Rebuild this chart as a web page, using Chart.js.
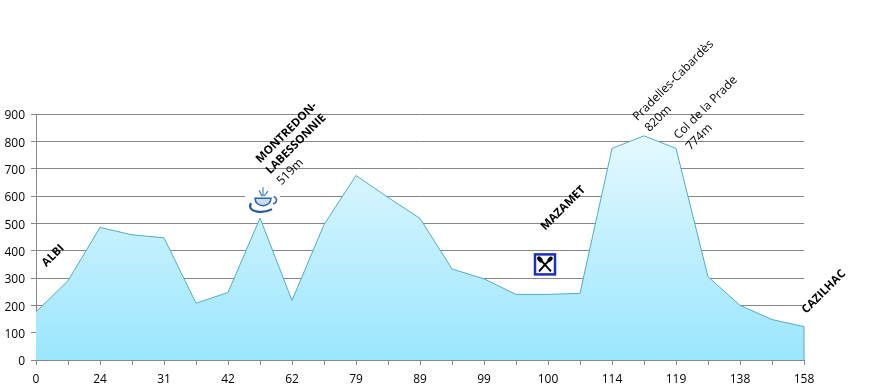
<!DOCTYPE html>
<html lang="fr">
<head>
  <meta charset="UTF-8">
  <title>Profil de la route</title>
  <script src="https://cdn.jsdelivr.net/npm/chart.js"></script>
  <style>
    html, body { margin: 0; padding: 0; background: #fff; }
    canvas { display: block; }
  </style>
</head>
<body>
<canvas id="profile" width="878" height="392"></canvas>
<script>
  // Tick labels sit on every second point, the points between have none
  const distances = ['0', '', '24', '', '31', '', '42', '', '62', '', '79', '', '89', '', '99', '', '100', '', '114', '', '119', '', '138', '', '158'];
  const altitudes = [176, 290, 485, 458, 447, 208, 247, 519, 218, 495, 675, 595, 518, 333, 297, 240, 240, 244, 774, 820, 774, 305, 200, 148, 122];
  const yTicks = [0, 100, 200, 300, 400, 500, 600, 700, 800, 900];

  const placeNames = ['ALBI', 'MONTREDON-', 'LABESSONNIE', 'MAZAMET', 'CAZILHAC'];
  const placeNotes = ['519m', 'Pradelles-Cabardès', '820m', 'Col de la Prade', '774m'];

  const FONT = '"Open Sans", sans-serif';
  const GRID = '#868686';
  const LINE = '#55abc6';

  // text, point index, then offset from that point in pixels
  const annotations = [
    [placeNames[0], 0, 8, -47, true],
    [placeNames[1], 7, -2, -57, true],
    [placeNames[2], 7, 8, -46, true],
    [placeNotes[0], 7, 19, -35, false],
    [placeNames[3], 16, -5, -66, true],
    [placeNotes[1], 19, -9, -17, false],
    [placeNotes[2], 19, 3, -6, false],
    [placeNotes[3], 20, 0, -11, false],
    [placeNotes[4], 20, 12, 0, false],
    [placeNames[4], 24, 0, -15, true]
  ];

  function drawCoffee(ctx, x, y) {
    ctx.save();
    ctx.translate(x, y);
    ctx.fillStyle = '#fff';
    ctx.fillRect(-18, -15, 35, 30);
    ctx.strokeStyle = '#2f63a8';
    ctx.fillStyle = '#c9dcf0';
    ctx.lineWidth = 1.5;
    // cup
    ctx.beginPath();
    ctx.moveTo(-8, -3);
    ctx.bezierCurveTo(-8, 7, 8, 7, 8, -3);
    ctx.closePath();
    ctx.fill();
    ctx.stroke();
    // handle
    ctx.beginPath();
    ctx.arc(10, -1, 3.5, -1.4, 1.6);
    ctx.stroke();
    // saucer
    ctx.lineWidth = 2.2;
    ctx.strokeStyle = '#2a5a9e';
    ctx.beginPath();
    ctx.moveTo(-12, 2);
    ctx.bezierCurveTo(-17, 11, 0, 13, 9, 8);
    ctx.stroke();
    // steam
    ctx.lineWidth = 1.2;
    ctx.strokeStyle = '#4f82c0';
    ctx.beginPath();
    ctx.moveTo(-1, -5);
    ctx.lineTo(-4, -11);
    ctx.moveTo(0, -5);
    ctx.lineTo(0, -14);
    ctx.moveTo(1, -5);
    ctx.lineTo(5, -10);
    ctx.stroke();
    ctx.restore();
  }

  function drawRestaurant(ctx, x, y) {
    ctx.save();
    ctx.translate(x, y);
    ctx.fillStyle = '#fff';
    ctx.fillRect(-12, -12, 24, 24);
    ctx.strokeStyle = '#1c2fc0';
    ctx.lineWidth = 2.5;
    ctx.strokeRect(-10, -10, 20, 20);
    ctx.strokeStyle = '#000';
    ctx.fillStyle = '#000';
    ctx.lineWidth = 2;
    ctx.beginPath();
    ctx.moveTo(-3, -3);
    ctx.lineTo(6, 7);
    ctx.moveTo(3, -3);
    ctx.lineTo(-6, 7);
    ctx.stroke();
    ctx.beginPath();
    ctx.ellipse(-5, -5, 2.2, 3.4, -0.75, 0, Math.PI * 2);
    ctx.fill();
    ctx.beginPath();
    ctx.ellipse(5, -5, 2, 3.2, 0.75, 0, Math.PI * 2);
    ctx.fill();
    ctx.restore();
  }

  const overlay = {
    id: 'overlay',
    afterDatasetsDraw(chart) {
      const ctx = chart.ctx;
      const xs = chart.scales.x;
      const ys = chart.scales.y;
      const last = altitudes.length - 1;

      // right hand edge of the area
      ctx.save();
      ctx.strokeStyle = LINE;
      ctx.lineWidth = 1;
      ctx.beginPath();
      ctx.moveTo(xs.getPixelForValue(last), ys.getPixelForValue(altitudes[last]));
      ctx.lineTo(xs.getPixelForValue(last), ys.getPixelForValue(0));
      ctx.stroke();
      ctx.restore();

      annotations.forEach(([text, i, dx, dy, bold]) => {
        ctx.save();
        ctx.translate(xs.getPixelForValue(i) + dx, ys.getPixelForValue(altitudes[i]) + dy);
        ctx.rotate(-Math.PI / 4);
        ctx.font = (bold ? 'bold 11.5px ' : '12px ') + FONT;
        ctx.fillStyle = '#000';
        ctx.textAlign = 'left';
        ctx.textBaseline = 'middle';
        ctx.fillText(text, 0, 0);
        ctx.restore();
      });

      drawCoffee(ctx, xs.getPixelForValue(7) + 3, ys.getPixelForValue(altitudes[7]) - 17);
      drawRestaurant(ctx, xs.getPixelForValue(16) - 3, ys.getPixelForValue(altitudes[16]) - 30);
    }
  };

  new Chart(document.getElementById('profile'), {
    type: 'line',
    plugins: [overlay],
    data: {
      labels: distances,
      datasets: [{
        data: altitudes,
        borderColor: LINE,
        borderWidth: 1,
        pointRadius: 0,
        tension: 0,
        fill: 'origin',
        backgroundColor(context) {
          const area = context.chart.chartArea;
          if (!area) return '#c0eeff';
          const grad = context.chart.ctx.createLinearGradient(0, context.chart.scales.y.getPixelForValue(820), 0, area.bottom);
          grad.addColorStop(0, '#e4f8ff');
          grad.addColorStop(1, '#9ae6fe');
          return grad;
        }
      }]
    },
    options: {
      responsive: false,
      animation: false,
      layout: { padding: { top: 114, right: 74, left: 0, bottom: 0 } },
      plugins: { legend: { display: false }, tooltip: { enabled: false } },
      scales: {
        x: {
          afterFit(scale) { scale.height = 32; },
          grid: { drawOnChartArea: false, color: GRID, tickLength: 5, tickColor: GRID },
          border: { color: GRID },
          ticks: { autoSkip: false, maxRotation: 0, color: '#000', padding: 7, font: { family: FONT, size: 12 } }
        },
        y: {
          min: 0,
          max: 900,
          afterFit(scale) { scale.width = 36; },
          afterBuildTicks(scale) { scale.ticks = yTicks.map(v => ({ value: v })); },
          grid: { color: GRID, tickLength: 5, tickColor: GRID },
          border: { color: GRID },
          ticks: { color: '#000', padding: 6, labelOffset: 2, font: { family: FONT, size: 12 } }
        }
      }
    }
  });
</script>
</body>
</html>
